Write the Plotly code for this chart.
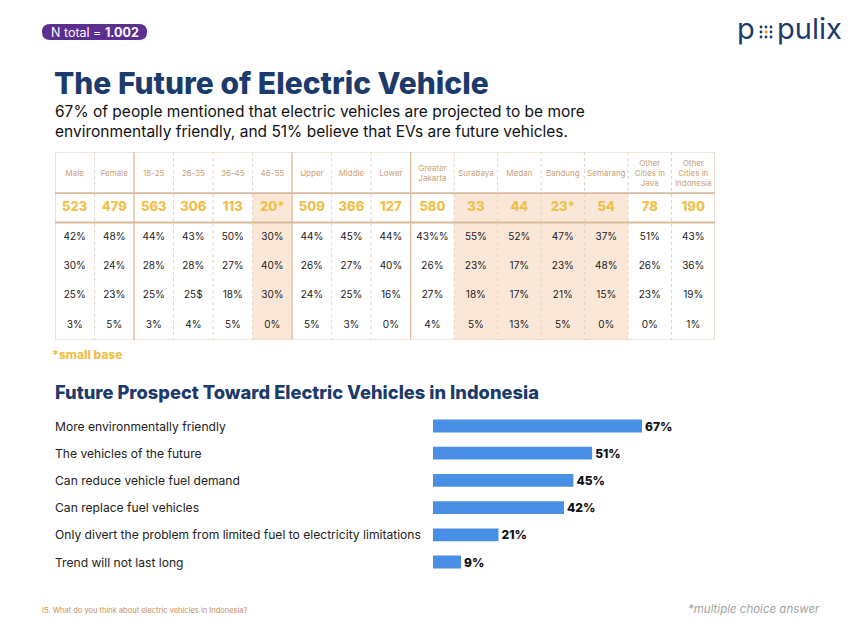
import plotly.graph_objects as go

# the page has an 8px body margin: the figure is sized to fit inside the 852x638 window
PAGE_W, PAGE_H, OFF = 852, 638, 8
W, H = PAGE_W - 2 * OFF, PAGE_H - 2 * OFF

# ---------------- data ----------------
col_labels = ["Male", "Female", "18-25", "26-35", "36-45", "46-55", "Upper", "Middle", "Lower",
              "Greater<br>Jakarta", "Surabaya", "Medan", "Bandung", "Semarang",
              "Other<br>Cities in<br>Java", "Other<br>Cities in<br>Indonesia"]
n_values = [523, 479, 563, 306, 113, 20, 509, 366, 127, 580, 33, 44, 23, 54, 78, 190]
n_labels = ["523", "479", "563", "306", "113", "20*", "509", "366", "127",
            "580", "33", "44", "23*", "54", "78", "190"]
row1 = ["42%", "48%", "44%", "43%", "50%", "30%", "44%", "45%", "44%", "43%%", "55%", "52%", "47%", "37%", "51%", "43%"]
row2 = ["30%", "24%", "28%", "28%", "27%", "40%", "26%", "27%", "40%", "26%", "23%", "17%", "23%", "48%", "26%", "36%"]
row3 = ["25%", "23%", "25%", "25$", "18%", "30%", "24%", "25%", "16%", "27%", "18%", "17%", "21%", "15%", "23%", "19%"]
row4 = ["3%", "5%", "3%", "4%", "5%", "0%", "5%", "3%", "0%", "4%", "5%", "13%", "5%", "0%", "0%", "1%"]
data_rows = [row1, row2, row3, row4]

prospects = ["More environmentally friendly", "The vehicles of the future",
             "Can reduce vehicle fuel demand", "Can replace fuel vehicles",
             "Only divert the problem from limited fuel to electricity limitations",
             "Trend will not last long"]
prospect_pct = [67, 51, 45, 42, 21, 9]

# ---------------- layout helpers (page pixel -> paper) ----------------
def px(x):
    return (x - OFF) / W

def py(y):
    return 1 - (y - OFF) / H

FONT = "Inter, 'Noto Sans', sans-serif"
NAVY = "#1c3a6b"
GOLD = "#f0c04a"
HEAD = "#c99f78"
PEACH = "#fbe7d8"
BROWN = "#d9bb9c"

widths = [1.0] * 9 + [1.1] * 7
edges = [0.0]
for w_ in widths:
    edges.append(edges[-1] + w_)
centers = [(edges[i] + edges[i + 1]) / 2 for i in range(len(widths))]
total_w = edges[-1]
ROW_HEAD = 1.4
total_h = ROW_HEAD + 1 + len(data_rows)

fig = go.Figure()

# ---------------- table ----------------
fig.add_trace(go.Scatter(x=centers, y=[ROW_HEAD / 2 + 0.05] * len(centers), text=col_labels, mode="text",
                         textfont=dict(family=FONT, size=8, color=HEAD),
                         xaxis="x2", yaxis="y2", hoverinfo="skip", showlegend=False))
fig.add_trace(go.Scatter(x=centers, y=[ROW_HEAD + 0.5] * len(centers),
                         text=n_labels, mode="text",
                         textfont=dict(family=FONT, size=13, color=GOLD, weight=800),
                         xaxis="x2", yaxis="y2", hoverinfo="skip", showlegend=False))
for i, r in enumerate(data_rows):
    fig.add_trace(go.Scatter(x=centers, y=[ROW_HEAD + 1.5 + i] * len(centers), text=r, mode="text",
                             textfont=dict(family=FONT, size=10, color="#1a1a1a"),
                             xaxis="x2", yaxis="y2", hoverinfo="skip", showlegend=False))

shapes = []
for i, n in enumerate(n_values):
    if n < 60:
        shapes.append(dict(type="rect", xref="x2", yref="y2", x0=edges[i], x1=edges[i + 1],
                           y0=ROW_HEAD, y1=total_h, fillcolor=PEACH, line=dict(width=0), layer="below"))
group_ends = {2, 6, 9}
for k in range(1, len(widths)):
    if k in group_ends:
        shapes.append(dict(type="line", xref="x2", yref="y2", x0=edges[k], x1=edges[k], y0=0, y1=total_h,
                           line=dict(color=BROWN, width=1.3)))
    else:
        shapes.append(dict(type="line", xref="x2", yref="y2", x0=edges[k], x1=edges[k], y0=0, y1=total_h,
                           line=dict(color="#e3d2c0", width=1, dash="dot")))
shapes.append(dict(type="rect", xref="x2", yref="y2", x0=0, x1=total_w, y0=0, y1=total_h,
                   line=dict(color="#e2cdb7", width=1.2)))
for yy in (ROW_HEAD, ROW_HEAD + 1):
    shapes.append(dict(type="line", xref="x2", yref="y2", x0=0, x1=total_w, y0=yy, y1=yy,
                       line=dict(color=BROWN, width=1.8)))

# ---------------- bar chart ----------------
fig.add_trace(go.Bar(y=prospects, x=prospect_pct, orientation="h", width=0.47,
                     marker=dict(color="#4a8fe6", line=dict(width=0)),
                     text=[f"{v}%" for v in prospect_pct], textposition="outside",
                     constraintext="none",
                     textfont=dict(family=FONT, size=12, color="#111111", weight=800),
                     cliponaxis=False, hoverinfo="skip", showlegend=False))

annotations = []
for p in prospects:
    annotations.append(dict(xref="paper", yref="y", x=px(53), y=p, text=p, showarrow=False,
                            xanchor="left", yanchor="middle",
                            font=dict(family=FONT, size=12.1, color="#222222")))

def note(x, y, text, size, color, xanchor="left", weight=None, italic=False):
    f = dict(family=FONT, size=size, color=color)
    if weight:
        f["weight"] = weight
    if italic:
        f["style"] = "italic"
    annotations.append(dict(xref="paper", yref="paper", x=px(x), y=py(y), text=text, showarrow=False,
                            xanchor=xanchor, yanchor="middle", align="left", font=f))

note(52, 83, "The Future of Electric Vehicle", 30, NAVY, weight=800)
note(53, 122, "67% of people mentioned that electric vehicles are projected to be more<br>"
              "environmentally friendly, and 51% believe that EVs are future vehicles.", 15.5, "#111111")
note(53, 392, "Future Prospect Toward Electric Vehicles in Indonesia", 18.3, NAVY, weight=800)
note(50, 354, "*small base", 12, GOLD, weight=800)
note(40, 610, "I5. What do you think about electric vehicles in Indonesia?", 7.5, "#c98f5a")
note(822, 609, "*multiple choice answer", 11.5, "#a3a3a3", xanchor="right", italic=True)

# badge (rounded pill)
bx0, bx1, by0, by1, r = 42, 147, 24, 40, 8
path = (f"M {px(bx0 + r)} {py(by0)} L {px(bx1 - r)} {py(by0)} "
        f"Q {px(bx1)} {py(by0)} {px(bx1)} {py((by0 + by1) / 2)} "
        f"Q {px(bx1)} {py(by1)} {px(bx1 - r)} {py(by1)} "
        f"L {px(bx0 + r)} {py(by1)} "
        f"Q {px(bx0)} {py(by1)} {px(bx0)} {py((by0 + by1) / 2)} "
        f"Q {px(bx0)} {py(by0)} {px(bx0 + r)} {py(by0)} Z")
shapes.append(dict(type="path", xref="paper", yref="paper", path=path, fillcolor="#5b2e90",
                   line=dict(width=0)))
annotations.append(dict(xref="paper", yref="paper", x=px(95), y=py(32.5), text="N total = <b>1.002</b>",
                        showarrow=False, xanchor="center", yanchor="middle",
                        font=dict(family=FONT, size=12.5, color="white")))

# logo
annotations.append(dict(xref="paper", yref="paper", x=px(735), y=py(29), text="p", showarrow=False,
                        xanchor="left", yanchor="middle", font=dict(family=FONT, size=29, color=NAVY)))
annotations.append(dict(xref="paper", yref="paper", x=px(775), y=py(29), text="pulix", showarrow=False,
                        xanchor="left", yanchor="middle", font=dict(family=FONT, size=29, color=NAVY)))
cx, cy = 766, 32
for dx in (-5, 0, 5):
    for dy in (-5, 0, 5):
        if dx == 0 and dy == 0:
            col, rr = "#f0a030", 1.7
        else:
            col, rr = NAVY, 1.4
        shapes.append(dict(type="circle", xref="paper", yref="paper",
                           x0=px(cx + dx - rr), x1=px(cx + dx + rr), y0=py(cy + dy + rr), y1=py(cy + dy - rr),
                           fillcolor=col, line=dict(width=0)))

hidden = dict(showgrid=False, zeroline=False, showticklabels=False, showline=False, ticks="", fixedrange=True)
fig.update_layout(
    width=W, height=H, autosize=False,
    margin=dict(l=0, r=0, t=0, b=0),
    paper_bgcolor="white", plot_bgcolor="rgba(0,0,0,0)",
    font=dict(family=FONT),
    xaxis=dict(domain=[px(433), px(745)], range=[0, 100], **hidden),
    yaxis=dict(domain=[py(575.6), py(412.4)], autorange="reversed", categoryorder="array",
               categoryarray=prospects, **hidden),
    xaxis2=dict(domain=[px(55), px(715)], range=[0, total_w], anchor="y2", **hidden),
    yaxis2=dict(domain=[py(340), py(152)], range=[total_h, 0], anchor="x2", **hidden),
    shapes=shapes,
    annotations=annotations,
)

fig.write_html("out.html")
